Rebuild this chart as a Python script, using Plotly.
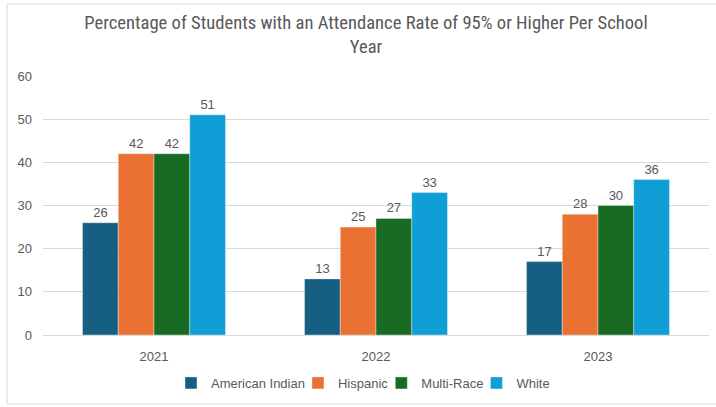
import plotly.graph_objects as go

years = ["2021", "2022", "2023"]
series_names = ["American Indian", "Hispanic", "Multi-Race", "White"]
american_indian = [26, 13, 17]
hispanic = [42, 25, 28]
multi_race = [42, 27, 30]
white = [51, 33, 36]
colors = ["#156082", "#E97132", "#196B24", "#0F9ED5"]

values = [american_indian, hispanic, multi_race, white]

W, H = 716, 407
L, R, T, B = 43, 7, 76, 72
pw, ph = W - L - R, H - T - B

fig = go.Figure()
for name, vals, col in zip(series_names, values, colors):
    fig.add_trace(go.Bar(
        x=years, y=vals, name=name,
        marker=dict(color=col, line=dict(width=0.6, color="rgba(255,255,255,0.6)")),
        text=[str(v) for v in vals], textposition="outside",
        textfont=dict(family="Liberation Sans, Arial, sans-serif", size=13, color="#595959"),
        cliponaxis=False,
    ))

gray = "#595959"
fig.update_layout(
    width=W, height=H,
    margin=dict(l=L, r=R, t=T, b=B),
    paper_bgcolor="white", plot_bgcolor="white",
    barmode="group", bargap=0.356, bargroupgap=0,
    title=dict(
        text="Percentage of Students with an Attendance Rate of 95% or Higher Per School<br>Year",
        x=(366 - L) / pw, xref="paper", xanchor="center", y=1 - 29 / H, yanchor="middle",
        font=dict(family="Liberation Sans Narrow, Roboto Condensed, Arial Narrow, sans-serif", size=18.6, color=gray),
    ),
    font=dict(family="Liberation Sans, Arial, sans-serif", size=13, color=gray),
    xaxis=dict(showgrid=False, showline=True, linecolor="#d9d9d9", linewidth=1,
               ticks="", tickfont=dict(size=13, color=gray), ticklabelstandoff=9),
    yaxis=dict(range=[0, 60], dtick=10, showgrid=True, gridcolor="#d9d9d9", gridwidth=1,
               zeroline=False, showline=False, ticks="",
               tickfont=dict(size=13, color=gray), ticklabelstandoff=10),
    legend=dict(orientation="h", x=(369 - L) / pw, xanchor="center", y=-(383 - (T + ph)) / ph,
                yanchor="middle", font=dict(size=13, color=gray),
                itemwidth=30, indentation=-12, tracegroupgap=0, bgcolor="rgba(0,0,0,0)"),
    showlegend=True,
)

# chart border
fig.add_shape(type="rect", xref="paper", yref="paper",
              x0=-(L - 7) / pw, x1=(W - L + 5) / pw,
              y0=-(404 - (T + ph)) / ph, y1=1 + (T - 4) / ph,
              line=dict(color="#d9d9d9", width=1), fillcolor="rgba(0,0,0,0)", layer="below")

fig.write_html("out.html", config={"displayModeBar": False},
               post_script="document.body.style.margin='0';")
